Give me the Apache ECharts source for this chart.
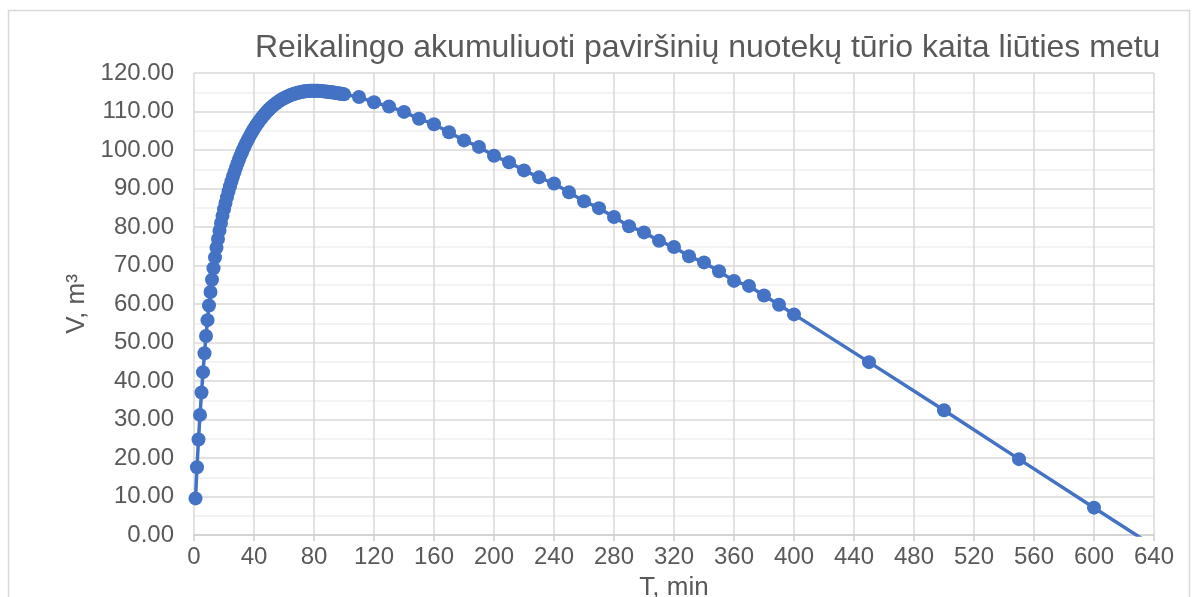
<!DOCTYPE html>
<html>
<head>
<meta charset="utf-8">
<script src="https://cdn.jsdelivr.net/npm/echarts@6/dist/echarts.min.js"></script>
<style>
html,body{margin:0;padding:0;background:#fff;}
#c{width:1197px;height:597px;}
</style>
</head>
<body>
<div id="c"></div>
<script>
const titleText = 'Reikalingo akumuliuoti paviršinių nuotekų tūrio kaita liūties metu';
const xName = 'T, min';
const yName = 'V, m³';
const xTicks = [0,40,80,120,160,200,240,280,320,360,400,440,480,520,560,600,640];
const yTicks = [0,10,20,30,40,50,60,70,80,90,100,110,120];

// time, min
const timeMin = [
  1,2,3,4,5,6,7,8,9,10,11,12,13,14,15,16,17,18,19,20,
  21,22,23,24,25,26,27,28,29,30,31,32,33,34,35,36,37,38,39,40,
  41,42,43,44,45,46,47,48,49,50,51,52,53,54,55,56,57,58,59,60,
  61,62,63,64,65,66,67,68,69,70,71,72,73,74,75,76,77,78,79,80,
  81,82,83,84,85,86,87,88,89,90,91,92,93,94,95,96,97,98,99,100,
  110,120,130,140,150,160,170,180,190,200,
  210,220,230,240,250,260,270,280,290,300,
  310,320,330,340,350,360,370,380,390,400,
  450,500,550,600,650
];
// volume, m3
const volume = [
  9.5,17.6,24.8,31.2,37.0,42.3,47.2,51.7,55.8,59.6,63.1,66.3,69.3,72.1,74.6,76.9,79.05,81.05,82.9,84.62,
  86.24,87.77,89.22,90.59,91.89,93.13,94.31,95.43,96.5,97.52,98.49,99.42,100.31,101.16,101.97,102.74,103.48,104.19,104.87,105.52,
  106.14,106.73,107.29,107.82,108.32,108.8,109.26,109.7,110.12,110.52,110.9,111.26,111.6,111.92,112.22,112.5,112.76,113.01,113.24,113.46,
  113.66,113.85,114.03,114.19,114.34,114.48,114.61,114.73,114.84,114.94,115.03,115.11,115.18,115.24,115.29,115.33,115.36,115.38,115.39,115.39,
  115.39,115.38,115.36,115.33,115.3,115.26,115.22,115.18,115.13,115.08,115.03,114.98,114.93,114.87,114.81,114.75,114.68,114.61,114.54,114.47,
  113.75,112.4,111.3,109.9,108.1,106.7,104.6,102.5,100.8,98.5,
  96.8,94.7,92.9,91.3,89.0,86.7,84.9,82.6,80.2,78.6,
  76.4,74.8,72.4,70.8,68.5,66.0,64.7,62.2,59.8,57.3,
  44.9,32.4,19.7,7.1,-5.5
];

const data = timeMin.map((t, i) => [t, volume[i]]);
const FONT = '"Liberation Sans", Arial, sans-serif';

const chart = echarts.init(document.getElementById('c'), null, {renderer: 'canvas'});
chart.setOption({
  animation: false,
  backgroundColor: '#ffffff',
  title: {
    text: titleText,
    left: 250,
    top: 27,
    textStyle: {fontFamily: FONT, fontSize: 32, fontWeight: 'normal', color: '#595959'}
  },
  graphic: [{
    type: 'rect',
    shape: {x: 8.5, y: 10.5, width: 1181, height: 620},
    style: {fill: 'none', stroke: '#d9d9d9', lineWidth: 1.5},
    silent: true, z: -1
  }],
  grid: {left: 194, right: 43, top: 73, bottom: 62, containLabel: false, outerBoundsMode: 'none'},
  xAxis: {
    type: 'value',
    min: xTicks[0], max: xTicks[xTicks.length - 1], interval: 40,
    name: xName, nameLocation: 'middle', nameGap: 40,
    nameTextStyle: {fontFamily: FONT, fontSize: 26, color: '#595959'},
    axisLine: {show: true, lineStyle: {color: '#d0d0d0', width: 1.5}},
    axisTick: {show: true, length: 6, lineStyle: {color: '#d0d0d0', width: 1.5}},
    axisLabel: {fontFamily: FONT, fontSize: 24, color: '#595959', margin: 10},
    splitLine: {show: true, lineStyle: {color: '#d9d9d9', width: 1.5}},
    minorTick: {show: false},
    minorSplitLine: {show: false}
  },
  yAxis: {
    type: 'value',
    min: yTicks[0], max: yTicks[yTicks.length - 1], interval: 10,
    name: yName, nameLocation: 'middle', nameGap: 97, nameRotate: 90,
    nameTextStyle: {fontFamily: FONT, fontSize: 26, color: '#595959'},
    axisLine: {show: false},
    axisTick: {show: false},
    axisLabel: {fontFamily: FONT, fontSize: 24, color: '#595959', margin: 20,
      formatter: v => v.toFixed(2)},
    splitLine: {show: true, lineStyle: {color: '#d9d9d9', width: 1.5}},
    minorTick: {show: false, splitNumber: 2},
    minorSplitLine: {show: true, lineStyle: {color: '#f0f0f0', width: 1.5}}
  },
  series: [{
    type: 'line',
    data: data,
    clip: true,
    symbol: 'circle',
    symbolSize: 14,
    showAllSymbol: true,
    lineStyle: {color: '#4472C4', width: 3.5},
    itemStyle: {color: '#4472C4'},
    z: 3
  }]
});
</script>
</body>
</html>
